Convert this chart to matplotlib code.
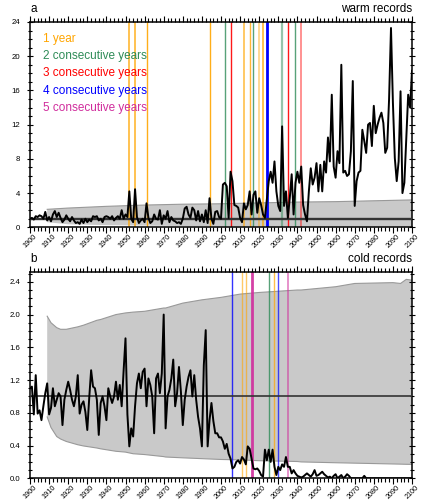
import matplotlib
matplotlib.use('Agg')
import matplotlib.pyplot as plt
from matplotlib.ticker import MultipleLocator, FormatStrFormatter
import numpy as np

plt.rcParams['font.family'] = ['Liberation Sans', 'DejaVu Sans']

years = np.arange(1900, 2101)

warm = [
    1.0, 1.1, 0.9, 1.3, 1.2, 1.4, 1.3, 1.0, 1.8, 0.8,
    1.2, 0.7, 1.5, 1.9, 1.2, 1.7, 1.1, 0.6, 0.9, 1.4,
    1.0, 0.7, 1.2, 0.8, 0.5, 0.6, 0.4, 0.9, 0.5, 1.0,
    0.6, 0.9, 0.7, 1.3, 1.2, 1.3, 0.8, 1.0, 0.6, 1.2,
    1.3, 1.2, 1.0, 1.3, 0.8, 1.1, 1.3, 1.0, 2.0, 1.0,
    1.5, 1.2, 4.2, 1.0, 0.6, 4.45, 1.2, 0.5, 0.8, 1.0,
    0.6, 2.8, 1.1, 0.5, 0.7, 1.5, 1.0, 0.9, 2.0, 0.4,
    1.4, 1.0, 1.9, 0.6, 1.2, 0.8, 0.7, 0.5, 0.6, 0.4,
    1.0, 2.2, 2.4, 1.5, 1.1, 2.3, 2.0, 0.8, 1.9, 0.7,
    1.5, 0.6, 2.0, 0.5, 3.4, 1.0, 0.4, 1.8, 1.9, 1.2,
    1.0, 5.0, 5.2, 4.8, 1.1, 6.5, 5.4, 2.6, 2.5, 2.3,
    1.1, 0.6, 2.8, 2.1, 2.6, 4.2, 1.5, 3.8, 4.2, 1.7,
    3.4, 2.6, 1.5, 1.1, 3.2, 5.4, 6.5, 5.2, 7.7, 4.2,
    2.5, 1.9, 11.8, 2.5, 4.2, 1.1, 3.4, 6.2, 1.5, 5.2,
    6.5, 5.2, 7.1, 2.6, 1.5, 0.7, 4.2, 6.9, 5.0, 5.8,
    7.5, 4.2, 7.3, 4.2, 7.7, 6.4, 10.5, 7.7, 15.5, 7.1,
    5.8, 8.9, 7.5, 19.0, 6.4, 6.6, 6.0, 6.2, 8.9, 17.1,
    2.5, 5.4, 6.4, 6.6, 11.4, 10.1, 8.7, 12.0, 12.2, 9.5,
    14.2, 11.0, 12.0, 12.8, 13.4, 12.2, 8.7, 9.3, 15.0, 23.3,
    14.6, 8.1, 5.4, 7.7, 15.9, 4.0, 5.2, 10.5, 15.5, 14.0,
    18.3,
]

cold = [
    1.10, 1.12, 0.78, 1.26, 0.79, 0.83, 0.71, 0.88, 1.04, 1.16,
    0.78, 0.86, 1.10, 0.88, 0.96, 1.04, 1.00, 0.65, 0.96, 1.08,
    1.18, 1.08, 0.96, 0.88, 1.00, 1.26, 0.79, 0.90, 0.94, 0.81,
    0.59, 0.98, 1.32, 1.12, 1.10, 0.96, 0.53, 0.92, 1.00, 0.88,
    0.71, 1.10, 1.00, 0.92, 1.00, 1.18, 0.96, 1.14, 0.88, 1.31,
    1.71, 0.78, 0.39, 0.61, 0.51, 0.88, 1.16, 1.28, 1.10, 1.30,
    1.34, 0.88, 1.22, 1.14, 1.00, 0.55, 1.22, 1.28, 1.04, 1.28,
    2.00, 0.61, 1.00, 1.08, 1.22, 1.45, 0.88, 1.04, 1.36, 1.06,
    0.65, 0.96, 1.12, 1.24, 1.32, 1.00, 1.26, 0.96, 0.75, 0.61,
    0.39, 1.38, 1.81, 0.39, 0.71, 0.92, 0.70, 0.55, 0.55, 0.50,
    0.50, 0.45, 0.36, 0.42, 0.30, 0.24, 0.12, 0.14, 0.20, 0.22,
    0.18, 0.26, 0.23, 0.17, 0.39, 0.36, 0.24, 0.12, 0.11, 0.12,
    0.09, 0.04, 0.02, 0.35, 0.22, 0.35, 0.20, 0.35, 0.14, 0.04,
    0.14, 0.10, 0.17, 0.14, 0.26, 0.14, 0.14, 0.06, 0.10, 0.06,
    0.03, 0.02, 0.01, 0.02, 0.04, 0.06, 0.04, 0.02, 0.05, 0.10,
    0.03, 0.04, 0.06, 0.08, 0.05, 0.03, 0.01, 0.02, 0.00, 0.03,
    0.05, 0.00, 0.02, 0.04, 0.00, 0.02, 0.05, 0.03, 0.00, 0.00,
    0.00, 0.00, 0.00, 0.00, 0.00, 0.03, 0.00, 0.00, 0.00, 0.00,
    0.00, 0.00, 0.00, 0.00, 0.00, 0.00, 0.00, 0.00, 0.00, 0.00,
    0.00, 0.00, 0.00, 0.00, 0.00, 0.00, 0.00, 0.00, 0.00, 0.00,
    0.00,
]

warm_band_years = [1909, 1920, 1940, 1960, 1980, 2000, 2020, 2040, 2060, 2080, 2100]
warm_band_low = [0.6, 0.35, 0.25, 0.2, 0.15, 0.12, 0.1, 0.1, 0.08, 0.08, 0.08]
warm_band_high = [2.1, 2.25, 2.45, 2.6, 2.7, 2.75, 2.85, 2.95, 3.0, 3.1, 3.2]

cold_band_years = [1909, 1911, 1914, 1916, 1919, 1925, 1928, 1935, 1937, 1945, 1950,
                   1954, 1960, 1970, 1971, 1980, 1990, 2000, 2010, 2020, 2040, 2042,
                   2060, 2070, 2090, 2094, 2097, 2100]
cold_band_low = [0.75, 0.62, 0.51, 0.48, 0.45, 0.41, 0.395, 0.37, 0.36, 0.33, 0.32,
                 0.30, 0.29, 0.265, 0.26, 0.25, 0.24, 0.23, 0.225, 0.215, 0.205, 0.20,
                 0.19, 0.185, 0.175, 0.173, 0.171, 0.17]
cold_band_high = [1.98, 1.90, 1.84, 1.82, 1.82, 1.85, 1.87, 1.93, 1.94, 2.00, 2.02,
                  2.03, 2.04, 2.08, 2.08, 2.14, 2.18, 2.21, 2.25, 2.27, 2.30, 2.30,
                  2.34, 2.38, 2.39, 2.38, 2.43, 2.42]

kind_labels = ['1 year', '2 consecutive years', '3 consecutive years',
               '4 consecutive years', '5 consecutive years']
kind_colors = ['#FFA500', '#2E8B57', '#FF0000', '#0000FF', '#D02C9C']

warm_rec_years = [1952, 1955, 1961, 1994, 2002, 2005, 2012, 2015, 2017, 2020,
                  2022, 2024, 2032, 2035, 2039, 2042]
warm_rec_kind = [1, 1, 1, 1, 2, 3, 1, 1, 2, 1, 1, 4, 2, 3, 2, 3]
warm_rec_alpha = [0.8, 0.8, 0.9, 0.9, 0.8, 0.9, 0.7, 0.8, 0.8, 0.5, 0.8, 1.0, 0.5, 0.9, 0.8, 0.5]
warm_rec_lw = [1.2, 1.2, 1.0, 1.0, 1.0, 1.0, 1.2, 1.0, 1.0, 1.2, 1.2, 2.0, 1.6, 1.0, 1.0, 1.2]

cold_rec_years = [2006, 2011, 2013, 2016, 2025, 2028, 2030, 2035]
cold_rec_kind = [4, 1, 1, 5, 2, 1, 4, 5]
cold_rec_alpha = [0.8, 0.6, 0.6, 0.9, 0.8, 0.7, 0.7, 0.6]
cold_rec_lw = [1.0, 1.0, 1.0, 2.0, 1.0, 1.0, 1.0, 1.2]

W, H = 423, 501
fig = plt.figure(figsize=(W / 100, H / 100), dpi=100)

def px_axes(left, top, right, bottom):
    return fig.add_axes([left / W, 1 - bottom / H, (right - left) / W, (bottom - top) / H])

ax1 = px_axes(30, 22, 412, 227.3)
ax2 = px_axes(30, 272, 412, 478.3)

def style(ax, ymax, ymaj, ymin):
    ax.set_xlim(1900, 2100)
    ax.set_ylim(0, ymax)
    ax.xaxis.set_major_locator(MultipleLocator(10))
    ax.xaxis.set_minor_locator(MultipleLocator(2))
    ax.yaxis.set_major_locator(MultipleLocator(ymaj))
    ax.yaxis.set_minor_locator(MultipleLocator(ymin))
    ax.tick_params(which='both', direction='out', top=True, right=True,
                   width=0.8, colors='black')
    ax.tick_params(axis='x', which='major', length=4)
    ax.tick_params(axis='x', which='minor', length=2.8)
    ax.tick_params(axis='y', which='major', length=5)
    ax.tick_params(axis='y', which='minor', length=3)
    ax.tick_params(axis='y', labelsize=5.6, pad=4.5)
    ax.tick_params(axis='x', labelsize=5.2, pad=0.3)
    ax.tick_params(axis='y', which='both', right=True, direction='inout')
    for lab in ax.get_xticklabels():
        lab.set_rotation(45)
        lab.set_ha('center')
        lab.set_va('top')
    for s in ax.spines.values():
        s.set_linewidth(1.1)

# ---- panel a: warm records
ax1.fill_between(warm_band_years, warm_band_low, warm_band_high,
                 facecolor='#C9C9C9', edgecolor='none', zorder=1)
ax1.plot(warm_band_years, warm_band_high, color='#999999', lw=0.8, zorder=1.5)
for yr, k, a, lw in zip(warm_rec_years, warm_rec_kind, warm_rec_alpha, warm_rec_lw):
    ax1.axvline(yr, color=kind_colors[k - 1], alpha=a, lw=lw, zorder=2)
ax1.axhline(1, color='#333333', lw=1.7, zorder=3)
ax1.plot(years, warm, color='black', lw=1.4, zorder=4)
style(ax1, 24, 4, 1)
for i, (lab, col) in enumerate(zip(kind_labels, kind_colors)):
    ax1.text(0.035, 0.905 - i * 0.0845, lab, color=col, fontsize=8.5,
             transform=ax1.transAxes, va='baseline', ha='left')
fig.text(30 / W, 1 - 12.5 / H, 'a', fontsize=8.5, va='baseline', ha='left')
fig.text(412 / W, 1 - 12.5 / H, 'warm records', fontsize=8.5, va='baseline', ha='right')

# ---- panel b: cold records
ax2.fill_between(cold_band_years, cold_band_low, cold_band_high,
                 facecolor='#C9C9C9', edgecolor='none', zorder=1)
ax2.plot(cold_band_years, cold_band_high, color='#999999', lw=0.8, zorder=1.5)
ax2.plot(cold_band_years, cold_band_low, color='#999999', lw=0.8, zorder=1.5)
for yr, k, a, lw in zip(cold_rec_years, cold_rec_kind, cold_rec_alpha, cold_rec_lw):
    ax2.axvline(yr, color=kind_colors[k - 1], alpha=a, lw=lw, zorder=2)
ax2.axhline(1, color='#333333', lw=1.2, zorder=3)
ax2.plot(years, cold, color='black', lw=1.4, zorder=4)
style(ax2, 2.52, 0.4, 0.1)
ax2.yaxis.set_major_formatter(FormatStrFormatter('%.1f'))
fig.text(30 / W, 1 - 262 / H, 'b', fontsize=8.5, va='baseline', ha='left')
fig.text(412 / W, 1 - 262 / H, 'cold records', fontsize=8.5, va='baseline', ha='right')

fig.savefig('out.png', dpi=100)
